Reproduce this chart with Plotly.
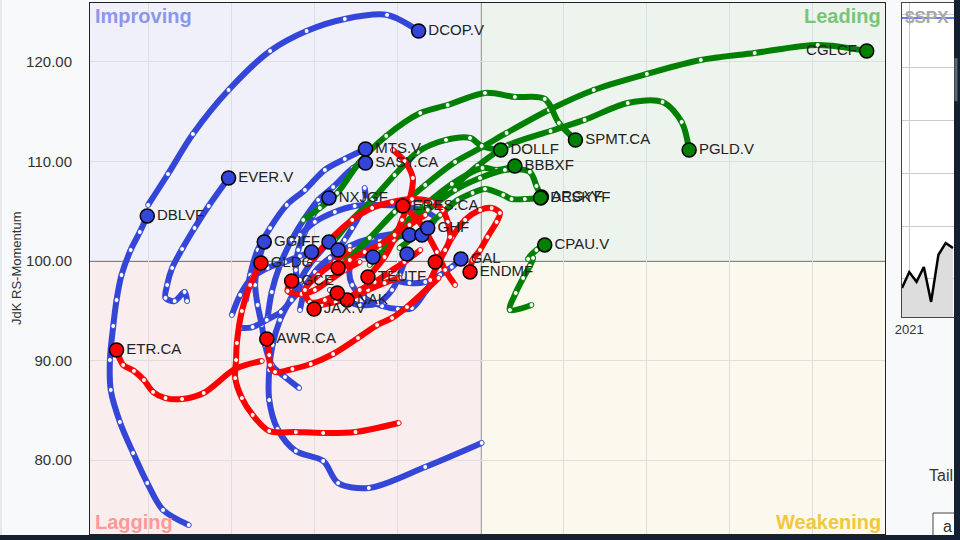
import plotly.graph_objects as go

# ---------------- axes ----------------
X_RANGE = [95.29, 104.87]
Y_RANGE = [72.59, 125.90]
Y_TICKS = [80, 90, 100, 110, 120]

# ---------------- blue tails (RS-Ratio x, RS-Momentum y, oldest -> newest) ----------------
dcop_x = [95.99, 96.23, 96.53, 96.96, 97.46, 97.90, 98.36, 98.87, 99.25]
dcop_y = [105.62, 108.73, 112.75, 117.17, 121.08, 123.09, 124.30, 124.70, 123.09]
dblvf_x = [96.48, 96.17, 95.98, 95.81, 95.65, 95.54, 95.53, 95.57, 95.61, 95.67, 95.78, 95.89, 95.98]
dblvf_y = [73.49, 75.00, 77.71, 80.72, 83.84, 87.05, 90.06, 93.47, 96.08, 98.59, 101.10, 102.91, 104.52]
ever_x = [96.46, 96.43, 96.31, 96.20, 96.22, 96.28, 96.40, 96.55, 96.72, 96.96]
ever_y = [95.98, 96.89, 95.98, 96.29, 97.59, 99.30, 101.20, 103.31, 105.52, 108.33]
mts_x = [97.17, 97.22, 97.31, 97.46, 97.66, 97.88, 98.12, 98.36, 98.61]
mts_y = [96.08, 98.59, 101.10, 103.31, 105.62, 107.13, 109.14, 110.24, 111.24]
sasy_x = [97.43, 97.48, 97.58, 97.72, 97.88, 98.04, 98.22, 98.46, 98.61]
sasy_y = [94.28, 96.89, 99.60, 102.11, 104.32, 106.12, 107.43, 109.34, 109.84]
nxjgf_x = [97.82, 97.77, 97.80, 97.88, 97.98, 98.06, 98.17]
nxjgf_y = [97.09, 99.10, 101.10, 102.91, 104.62, 105.62, 106.33]
ggiff_x = [97.81, 97.64, 97.48, 97.40, 97.36, 97.31, 97.28, 97.31, 97.39]
ggiff_y = [87.25, 88.35, 89.56, 91.57, 93.57, 95.58, 97.59, 99.60, 101.91]
blue_a_x = [100.01, 99.33, 98.65, 98.28, 98.10, 97.77, 97.55, 97.45, 97.45, 97.49, 97.58, 97.70, 97.82, 97.96, 98.17]
blue_a_y = [81.73, 79.32, 77.21, 77.71, 79.92, 80.92, 83.13, 86.04, 89.06, 91.57, 94.08, 96.08, 98.09, 99.90, 101.91]
blue_b_x = [97.10, 97.25, 97.42, 97.59, 97.72, 97.88, 98.04, 98.18, 98.36, 98.70]
blue_b_y = [93.27, 93.37, 94.08, 94.88, 96.08, 97.59, 98.90, 99.90, 100.60, 100.40]
blue_c_x = [99.47, 99.33, 99.17, 99.00, 98.81, 98.60, 98.45, 98.42, 98.54, 98.78, 99.14]
blue_c_y = [98.49, 96.89, 95.28, 95.18, 95.48, 96.29, 97.59, 99.30, 101.10, 102.11, 102.61]
blue_d_x = [97.82, 97.88, 98.00, 98.18, 98.42, 98.69, 98.96, 99.29]
blue_d_y = [95.08, 97.09, 98.90, 100.30, 101.51, 102.31, 102.71, 102.61]
ghf_x = [97.82, 98.00, 98.24, 98.48, 98.76, 99.02, 99.27, 99.45, 99.36]
ghf_y = [102.61, 103.92, 104.92, 105.52, 105.62, 105.52, 105.12, 104.32, 103.31]
gal_x = [98.96, 99.14, 99.33, 99.51, 99.65, 99.76]
gal_y = [98.09, 97.79, 97.89, 98.59, 99.40, 100.20]
blue_e_x = [98.18, 98.36, 98.54, 98.76, 98.93, 99.02, 99.11]
blue_e_y = [97.09, 96.08, 95.58, 95.78, 97.09, 98.59, 100.70]
blue_f_x = [97.00, 97.10, 97.24, 97.43, 97.64, 97.82, 97.96]
blue_f_y = [94.58, 96.59, 98.29, 99.30, 99.90, 100.50, 100.90]
blue_g_x = [98.60, 98.61, 98.54, 98.45, 98.36, 98.28]
blue_g_y = [107.33, 106.12, 104.62, 103.31, 102.11, 101.10]

# ---------------- green tails ----------------
cglcf_x = [98.36, 98.66, 98.96, 99.33, 99.69, 100.02, 100.31, 100.82, 101.36, 102.00, 102.65, 103.30, 104.06, 104.65]
cglcf_y = [99.90, 102.31, 104.92, 107.63, 109.94, 111.45, 112.85, 115.16, 117.17, 118.78, 120.18, 120.88, 121.69, 121.08]
pgld_x = [98.66, 98.96, 99.27, 99.63, 99.96, 100.31, 100.84, 101.25, 101.77, 102.19, 102.42, 102.51]
pgld_y = [99.60, 102.11, 104.62, 107.13, 109.54, 111.55, 113.05, 114.16, 115.86, 115.96, 113.96, 111.14]
spmt_x = [97.86, 98.06, 98.27, 98.54, 98.86, 99.27, 99.60, 100.05, 100.41, 100.77, 100.94, 101.14]
spmt_y = [104.12, 105.32, 106.83, 109.94, 112.55, 114.86, 115.66, 116.87, 116.47, 116.27, 113.86, 112.15]
dollf_x = [98.24, 98.42, 98.69, 98.96, 99.24, 99.58, 99.87, 100.01, 100.24]
dollf_y = [102.11, 103.92, 106.12, 108.63, 110.94, 112.15, 112.35, 111.55, 111.14]
bbbxf_x = [98.78, 99.02, 99.33, 99.65, 100.02, 100.19, 100.41]
bbbxf_y = [101.31, 103.31, 105.62, 107.73, 109.34, 109.14, 109.54]
argyf_x = [99.08, 99.36, 99.69, 99.99, 100.29, 100.59, 100.67, 100.73]
argyf_y = [103.11, 105.12, 107.13, 108.33, 109.14, 108.94, 107.53, 106.43]
deskyf_x = [99.02, 99.27, 99.51, 99.72, 99.90, 100.05, 100.27, 100.37, 100.53, 100.72]
deskyf_y = [101.31, 102.91, 104.62, 106.12, 106.83, 107.23, 106.63, 106.22, 106.22, 106.33]
cpau_x = [100.61, 100.35, 100.42, 100.51, 100.59, 100.63, 100.57, 100.67, 100.77]
cpau_y = [95.58, 95.08, 96.79, 98.29, 99.50, 100.30, 100.20, 101.10, 101.61]

# ---------------- red tails ----------------
etr_x = [97.36, 97.04, 96.66, 96.40, 96.20, 96.05, 95.94, 95.82, 95.69, 95.61]
etr_y = [89.96, 89.16, 86.75, 86.14, 86.24, 86.85, 88.05, 88.96, 89.56, 91.06]
awr_x = [99.49, 99.11, 98.93, 98.75, 98.52, 98.22, 97.95, 97.73, 97.52, 97.46, 97.45, 97.42]
awr_y = [98.29, 95.38, 94.28, 93.57, 92.27, 90.66, 89.66, 89.16, 88.86, 89.56, 90.56, 92.17]
gldg_x = [99.01, 98.49, 98.10, 97.77, 97.45, 97.25, 97.12, 97.04, 97.05, 97.06, 97.12, 97.22, 97.35]
gldg_y = [83.73, 82.83, 82.73, 82.83, 82.93, 84.54, 86.24, 88.25, 90.06, 91.77, 94.98, 97.59, 99.80]
teutf_x = [98.94, 99.08, 99.18, 99.14, 99.05, 98.95, 98.84, 98.64]
teutf_y = [111.14, 110.04, 108.33, 106.12, 104.12, 102.11, 100.40, 98.39]
endmf_x = [99.39, 99.51, 99.65, 99.81, 99.99, 100.13, 100.23, 100.19, 100.08, 99.99, 99.90, 99.87]
endmf_y = [98.09, 100.10, 102.31, 104.12, 105.12, 105.32, 104.82, 103.92, 102.41, 101.10, 100.10, 98.90]
red_a_x = [97.94, 98.18, 98.45, 98.69, 98.93, 99.17, 99.41, 99.54, 99.60, 99.63, 99.57, 99.45]
red_a_y = [99.90, 102.11, 104.12, 105.32, 105.92, 106.22, 105.92, 105.12, 103.92, 102.41, 101.10, 99.90]
eres_x = [99.69, 99.57, 99.47, 99.36, 99.24, 99.06]
eres_y = [97.59, 99.10, 100.90, 102.61, 104.12, 105.52]
jax_x = [99.02, 98.84, 98.64, 98.45, 98.25, 98.08, 97.99]
jax_y = [98.29, 97.79, 97.09, 96.39, 95.88, 95.58, 95.18]
nak_x = [99.27, 99.08, 98.90, 98.72, 98.54, 98.39]
nak_y = [101.10, 99.90, 98.90, 97.89, 97.09, 96.08]
gce_x = [98.54, 98.36, 98.18, 98.00, 97.84, 97.67, 97.72]
gce_y = [99.90, 99.10, 98.09, 97.09, 96.69, 96.99, 97.99]
red_b_x = [98.42, 98.24, 98.04, 97.88, 97.94, 98.12, 98.27]
red_b_y = [101.10, 99.90, 98.59, 97.09, 95.88, 96.08, 96.79]
red_c_x = [99.33, 99.14, 98.96, 98.78, 98.60, 98.42, 98.28]
red_c_y = [104.62, 103.61, 102.61, 101.61, 100.90, 100.10, 99.30]

# ---------------- benchmark mini chart ----------------
spx_dates = ["2020-12-25", "2021-01-01", "2021-01-08", "2021-01-15",
             "2021-01-22", "2021-01-29", "2021-02-05", "2021-02-12"]
spx_values = [3766, 3826, 3789, 3845, 3713, 3891, 3936, 3917]

BLUE = "#3346d8"
GREEN = "#008000"
RED = "#ff0000"

blue_tails = [
    ("DCOP.V", dcop_x, dcop_y), ("DBLVF", dblvf_x, dblvf_y), ("EVER.V", ever_x, ever_y),
    ("MTS.V", mts_x, mts_y), ("SASY.CA", sasy_x, sasy_y), ("NXJGF", nxjgf_x, nxjgf_y),
    ("GGIFF", ggiff_x, ggiff_y), ("", blue_a_x, blue_a_y), ("", blue_b_x, blue_b_y),
    ("", blue_c_x, blue_c_y), ("", blue_d_x, blue_d_y), ("GHF", ghf_x, ghf_y),
    ("GAL", gal_x, gal_y), ("", blue_e_x, blue_e_y), ("", blue_f_x, blue_f_y),
    ("", blue_g_x, blue_g_y),
]
green_tails = [
    ("CGLCF", cglcf_x, cglcf_y), ("PGLD.V", pgld_x, pgld_y), ("SPMT.CA", spmt_x, spmt_y),
    ("DOLLF", dollf_x, dollf_y), ("BBBXF", bbbxf_x, bbbxf_y), ("ARGYF", argyf_x, argyf_y),
    ("DESKYF", deskyf_x, deskyf_y), ("CPAU.V", cpau_x, cpau_y),
]
red_tails = [
    ("ETR.CA", etr_x, etr_y), ("AWR.CA", awr_x, awr_y), ("GLDG", gldg_x, gldg_y),
    ("TEUTF", teutf_x, teutf_y), ("ENDMF", endmf_x, endmf_y), ("", red_a_x, red_a_y),
    ("ERES.CA", eres_x, eres_y), ("JAX.V", jax_x, jax_y), ("NAK", nak_x, nak_y),
    ("GCE", gce_x, gce_y), ("", red_b_x, red_b_y), ("", red_c_x, red_c_y),
]
groups = [(blue_tails, BLUE), (green_tails, GREEN), (red_tails, RED)]
LEFT_LABELS = {"CGLCF"}

fig = go.Figure()

# tails
for tails, col in groups:
    for name, xs, ys in tails:
        fig.add_trace(go.Scatter(
            x=xs, y=ys, mode="lines+markers",
            line=dict(color=col, width=6, shape="spline", smoothing=0.9),
            marker=dict(size=5, color="white", line=dict(color=col, width=1)),
            hoverinfo="skip", showlegend=False, xaxis="x", yaxis="y"))

# heads + labels
for tails, col in groups:
    fig.add_trace(go.Scatter(
        x=[t[1][-1] for t in tails], y=[t[2][-1] for t in tails],
        mode="markers+text", text=[t[0] for t in tails],
        textposition=["middle left" if t[0] in LEFT_LABELS else "middle right" for t in tails],
        textfont=dict(family="Liberation Sans, Arial", size=15, color="#222222"),
        marker=dict(size=14, color=col, line=dict(color="black", width=1.5)),
        hoverinfo="skip", showlegend=False, xaxis="x", yaxis="y"))

# benchmark
fig.add_trace(go.Scatter(
    x=spx_dates, y=spx_values, mode="lines", fill="tozeroy",
    fillcolor="#dddddd", line=dict(color="black", width=2.5),
    hoverinfo="skip", showlegend=False, xaxis="x2", yaxis="y2"))

shapes = [
    dict(type="rect", xref="x", yref="y", x0=X_RANGE[0], x1=100, y0=100, y1=Y_RANGE[1],
         fillcolor="#eff0f9", line_width=0, layer="below"),
    dict(type="rect", xref="x", yref="y", x0=100, x1=X_RANGE[1], y0=100, y1=Y_RANGE[1],
         fillcolor="#edf4ee", line_width=0, layer="below"),
    dict(type="rect", xref="x", yref="y", x0=X_RANGE[0], x1=100, y0=Y_RANGE[0], y1=100,
         fillcolor="#f9eded", line_width=0, layer="below"),
    dict(type="rect", xref="x", yref="y", x0=100, x1=X_RANGE[1], y0=Y_RANGE[0], y1=100,
         fillcolor="#fbf8ed", line_width=0, layer="below"),
    dict(type="line", xref="x", yref="y", x0=100, x1=100, y0=Y_RANGE[0], y1=Y_RANGE[1],
         line=dict(color="black", width=1), layer="below"),
    dict(type="line", xref="x", yref="y", x0=X_RANGE[0], x1=X_RANGE[1], y0=100, y1=100,
         line=dict(color="black", width=1), layer="below"),
    # benchmark label line
    dict(type="line", xref="paper", yref="paper", x0=0.9398, x1=1.0, y0=0.9718, y1=0.9718,
         line=dict(color="#3355ee", width=1.5)),
    # page left border
    dict(type="line", xref="paper", yref="paper", x0=-0.1030, x1=-0.1030, y0=-0.02, y1=1.01,
         line=dict(color="#d4d6da", width=1)),
    # tail control box
    dict(type="rect", xref="paper", yref="paper", x0=0.9757, x1=1.02, y0=-0.02, y1=0.0395,
         fillcolor="white", line=dict(color="#444444", width=1)),
    # window scrollbars
    dict(type="rect", xref="paper", yref="paper", x0=1.0, x1=1.0075, y0=-0.015, y1=1.01,
         fillcolor="#142130", line_width=0),
    dict(type="rect", xref="paper", yref="paper", x0=1.0005, x1=1.0040, y0=0.815, y1=0.896,
         fillcolor="#5b6673", line_width=0),
    dict(type="rect", xref="paper", yref="paper", x0=-0.11, x1=1.0075, y0=-0.015, y1=-0.0019,
         fillcolor="#142130", line_width=0),
]

qfont = dict(family="Liberation Sans, Arial", size=20)
annotations = [
    dict(text="<b>Improving</b>", xref="paper", yref="paper", x=0.0035, y=0.9755,
         xanchor="left", yanchor="middle", showarrow=False, font=dict(qfont, color="#8c96ea")),
    dict(text="<b>Leading</b>", xref="paper", yref="paper", x=0.9178, y=0.9755,
         xanchor="right", yanchor="middle", showarrow=False, font=dict(qfont, color="#7ac47a")),
    dict(text="<b>Lagging</b>", xref="paper", yref="paper", x=0.0035, y=0.0226,
         xanchor="left", yanchor="middle", showarrow=False, font=dict(qfont, color="#ff9898")),
    dict(text="<b>Weakening</b>", xref="paper", yref="paper", x=0.9178, y=0.0226,
         xanchor="right", yanchor="middle", showarrow=False, font=dict(qfont, color="#f3c73a")),
    dict(text="JdK RS-Momentum", xref="paper", yref="paper", x=-0.0845, y=0.501,
         textangle=-90, showarrow=False, xanchor="center", yanchor="middle",
         font=dict(family="Liberation Sans, Arial", size=13, color="#333333")),
    dict(text="<b>$SPX</b>", xref="paper", yref="paper", x=0.941, y=0.9718,
         xanchor="left", yanchor="middle", showarrow=False,
         font=dict(family="Liberation Sans, Arial", size=17, color="#a8a8a8")),
    dict(text="Tail", xref="paper", yref="paper", x=0.9688, y=0.1111,
         xanchor="left", yanchor="middle", showarrow=False,
         font=dict(family="Liberation Sans, Arial", size=16, color="#333333")),
    dict(text="a", xref="paper", yref="paper", x=0.9850, y=0.0132,
         xanchor="left", yanchor="middle", showarrow=False,
         font=dict(family="Liberation Sans, Arial", size=16, color="#333333")),
]

fig.update_layout(
    width=960, height=540,
    margin=dict(l=90, r=6, t=3, b=6),
    paper_bgcolor="#f8f9fb", plot_bgcolor="white",
    shapes=shapes, annotations=annotations,
    showlegend=False,
    xaxis=dict(domain=[0, 0.9201], range=X_RANGE, dtick=1, tick0=96,
               showgrid=True, gridcolor="#dedede", gridwidth=1,
               showticklabels=False, zeroline=False,
               showline=True, linecolor="#222222", linewidth=1, mirror=True),
    yaxis=dict(domain=[0, 1], range=Y_RANGE, tickvals=Y_TICKS, tickformat=".2f",
               showgrid=True, gridcolor="#dedede", gridwidth=1, zeroline=False,
               ticks="", ticklabelstandoff=14,
               tickfont=dict(family="Liberation Sans, Arial", size=15, color="#333333"),
               showline=True, linecolor="#222222", linewidth=1, mirror=True),
    xaxis2=dict(domain=[0.9398, 1.0], anchor="y2", type="date",
                range=["2020-12-25", "2021-02-13"],
                tickvals=["2021-01-01"], tickformat="%Y",
                showgrid=True, gridcolor="#cccccc", zeroline=False,
                tickfont=dict(family="Liberation Sans, Arial", size=13, color="#333333"),
                showline=True, linecolor="#444444", mirror=True),
    yaxis2=dict(domain=[0.4087, 1.0], anchor="x2", range=[3656, 4845], dtick=200, tick0=3800,
                showgrid=True, gridcolor="#cccccc", zeroline=False, showticklabels=False,
                showline=True, linecolor="#444444", mirror=True),
)

fig.write_html("out.html", config={"displayModeBar": False},
               post_script="document.body.style.margin='0';document.body.style.overflow='hidden';")
